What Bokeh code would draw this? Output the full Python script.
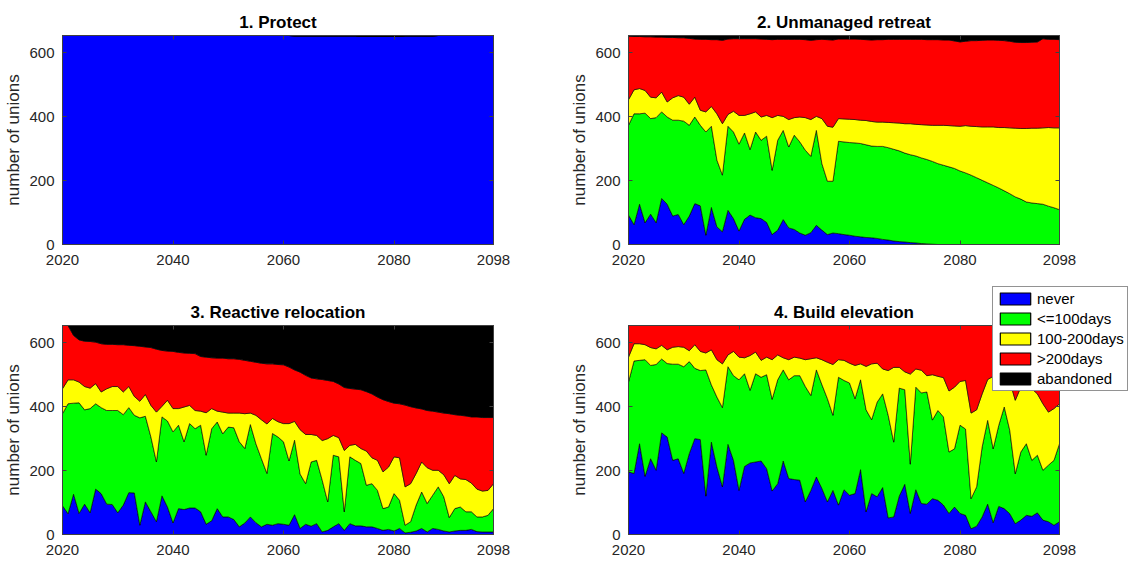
import numpy as np
from bokeh.plotting import figure
from bokeh.models import Range1d, FixedTicker, LinearAxis, Legend, LegendItem, GridBox
from bokeh.embed import file_html
from bokeh.resources import INLINE

# ---------------- data ----------------
years = list(range(2020, 2099))
categories = ["never", "<=100days", "100-200days", ">200days", "abandoned"]
colors = ["#0000ff", "#00ff00", "#ffff00", "#ff0000", "#000000"]
titles = ["1. Protect", "2. Unmanaged retreat", "3. Reactive relocation", "4. Build elevation"]
x_ticks = [2020, 2040, 2060, 2080, 2098]
y_ticks = [0, 200, 400, 600]
total_unions = 654

# Panel 1: Protect
p1_never = [654, 654, 654, 654, 654, 654, 654, 654, 654, 654,
            654, 654, 654, 654, 654, 654, 654, 654, 654, 654,
            654, 654, 654, 654, 654, 654, 654, 654, 654, 654,
            654, 654, 654, 654, 654, 654, 654, 654, 654, 654,
            654, 654, 653, 653, 653, 653, 653, 653, 653, 653,
            653, 653, 653, 653, 651, 651, 651, 651, 651, 651,
            651, 651, 653, 653, 653, 653, 653, 653, 654, 654,
            654, 654, 654, 654, 654, 654, 654, 654, 654]
p1_le100 = [0, 0, 0, 0, 0, 0, 0, 0, 0, 0, 0, 0, 0, 0, 0, 0, 0, 0, 0, 0,
            0, 0, 0, 0, 0, 0, 0, 0, 0, 0, 0, 0, 0, 0, 0, 0, 0, 0, 0, 0,
            0, 0, 0, 0, 0, 0, 0, 0, 0, 0, 0, 0, 0, 0, 0, 0, 0, 0, 0, 0,
            0, 0, 0, 0, 0, 0, 0, 0, 0, 0, 0, 0, 0, 0, 0, 0, 0, 0, 0]
p1_d100_200 = [0, 0, 0, 0, 0, 0, 0, 0, 0, 0, 0, 0, 0, 0, 0, 0, 0, 0, 0, 0,
               0, 0, 0, 0, 0, 0, 0, 0, 0, 0, 0, 0, 0, 0, 0, 0, 0, 0, 0, 0,
               0, 0, 0, 0, 0, 0, 0, 0, 0, 0, 0, 0, 0, 0, 0, 0, 0, 0, 0, 0,
               0, 0, 0, 0, 0, 0, 0, 0, 0, 0, 0, 0, 0, 0, 0, 0, 0, 0, 0]
p1_gt200 = [0, 0, 0, 0, 0, 0, 0, 0, 0, 0, 0, 0, 0, 0, 0, 0, 0, 0, 0, 0,
            0, 0, 0, 0, 0, 0, 0, 0, 0, 0, 0, 0, 0, 0, 0, 0, 0, 0, 0, 0,
            0, 0, 0, 0, 0, 0, 0, 0, 0, 0, 0, 0, 0, 0, 0, 0, 0, 0, 0, 0,
            0, 0, 0, 0, 0, 0, 0, 0, 0, 0, 0, 0, 0, 0, 0, 0, 0, 0, 0]
p1_abandoned = [0, 0, 0, 0, 0, 0, 0, 0, 0, 0,
                0, 0, 0, 0, 0, 0, 0, 0, 0, 0,
                0, 0, 0, 0, 0, 0, 0, 0, 0, 0,
                0, 0, 0, 0, 0, 0, 0, 0, 0, 0,
                0, 0, 1, 1, 1, 1, 1, 1, 1, 1,
                1, 1, 1, 1, 3, 3, 3, 3, 3, 3,
                3, 3, 1, 1, 1, 1, 1, 1, 0, 0,
                0, 0, 0, 0, 0, 0, 0, 0, 0]

# Panel 2: Unmanaged retreat
p2_never = [92, 62, 126, 68, 95, 68, 144, 126, 89, 94,
            62, 89, 128, 121, 29, 116, 55, 40, 107, 81,
            42, 79, 92, 84, 81, 69, 31, 45, 78, 52,
            47, 36, 29, 37, 60, 45, 31, 36, 34, 31,
            29, 26, 24, 22, 21, 19, 16, 14, 11, 9,
            8, 6, 5, 3, 2, 1, 0, 0, 0, 0,
            0, 0, 0, 0, 0, 0, 0, 0, 0, 0,
            0, 0, 0, 0, 0, 0, 0, 0, 0]
p2_le100 = [281, 347, 283, 343, 299, 329, 271, 273, 300, 295,
            324, 284, 271, 252, 323, 254, 209, 177, 263, 271,
            272, 270, 205, 268, 245, 270, 201, 281, 279, 253,
            295, 285, 266, 239, 297, 208, 167, 162, 289, 290,
            290, 292, 292, 290, 287, 288, 291, 289, 287, 284,
            278, 275, 272, 268, 264, 259, 253, 248, 243, 238,
            230, 224, 217, 209, 201, 193, 185, 177, 168, 159,
            149, 142, 133, 130, 128, 126, 120, 115, 109]
p2_d100_200 = [80, 75, 79, 71, 67, 62, 62, 47, 70, 77,
               75, 66, 62, 47, 63, 62, 145, 161, 37, 65,
               90, 55, 112, 63, 73, 65, 165, 78, 44, 86,
               55, 78, 102, 115, 44, 141, 172, 169, 71, 72,
               73, 73, 73, 76, 77, 76, 76, 79, 83, 87,
               92, 97, 99, 104, 108, 113, 120, 125, 129, 133,
               140, 148, 153, 160, 167, 175, 183, 189, 198, 206,
               215, 221, 230, 234, 236, 239, 246, 250, 256]
p2_gt200 = [199, 167, 163, 168, 189, 190, 172, 202, 189, 181,
            186, 206, 182, 222, 227, 209, 232, 261, 236, 227,
            240, 240, 235, 229, 244, 238, 244, 238, 241, 251,
            245, 243, 244, 248, 240, 248, 271, 273, 249, 250,
            251, 252, 253, 253, 255, 258, 258, 260, 261, 262,
            264, 264, 266, 267, 267, 268, 268, 267, 268, 266,
            264, 264, 268, 269, 271, 272, 272, 273, 272, 271,
            269, 269, 269, 269, 270, 279, 276, 277, 276]
p2_abandoned = [2, 3, 3, 4, 4, 5, 5, 6, 6, 7,
                7, 9, 11, 12, 12, 13, 13, 15, 11, 10,
                10, 10, 10, 10, 11, 12, 13, 12, 12, 12,
                12, 12, 13, 15, 13, 12, 13, 14, 11, 11,
                11, 11, 12, 13, 14, 13, 13, 12, 12, 12,
                12, 12, 12, 12, 13, 13, 13, 14, 14, 17,
                20, 18, 16, 16, 15, 14, 14, 15, 16, 18,
                21, 22, 22, 21, 20, 10, 12, 12, 13]

# Panel 3: Reactive relocation
p3_never = [90, 65, 126, 66, 95, 68, 142, 128, 95, 94,
            68, 92, 131, 130, 29, 102, 71, 40, 121, 86,
            36, 81, 78, 83, 83, 71, 32, 43, 81, 55,
            55, 47, 24, 36, 55, 37, 24, 32, 29, 34,
            32, 29, 62, 19, 32, 26, 34, 8, 13, 24,
            34, 13, 34, 27, 27, 24, 24, 19, 13, 16,
            11, 19, 5, 7, 11, 19, 8, 19, 16, 11,
            8, 11, 13, 13, 16, 9, 8, 8, 8]
p3_le100 = [288, 344, 285, 346, 295, 326, 267, 269, 293, 294,
            320, 283, 266, 243, 336, 268, 234, 187, 247, 269,
            285, 261, 212, 264, 248, 271, 216, 288, 271, 260,
            281, 287, 266, 233, 289, 247, 213, 159, 287, 271,
            258, 201, 233, 170, 127, 201, 198, 162, 89, 224,
            209, 58, 209, 205, 195, 130, 135, 119, 68, 70,
            117, 88, 24, 33, 81, 114, 89, 104, 133, 107,
            45, 70, 73, 58, 55, 46, 47, 52, 73]
p3_d100_200 = [78, 75, 73, 65, 73, 64, 63, 49, 68, 75,
               75, 71, 66, 59, 52, 68, 99, 156, 33, 65,
               73, 52, 109, 57, 57, 44, 133, 63, 34, 68,
               44, 46, 90, 109, 36, 89, 122, 155, 47, 48,
               57, 117, 59, 139, 154, 86, 78, 124, 198, 62,
               60, 192, 36, 50, 47, 107, 81, 94, 115, 125,
               115, 133, 120, 119, 99, 94, 112, 78, 52, 69,
               106, 104, 88, 101, 90, 87, 81, 78, 78]
p3_gt200 = [198, 170, 139, 132, 142, 146, 130, 151, 139, 132,
            131, 148, 129, 159, 172, 149, 181, 197, 175, 154,
            179, 176, 169, 163, 178, 171, 174, 159, 166, 169,
            170, 170, 168, 167, 162, 166, 177, 188, 171, 179,
            184, 177, 161, 180, 185, 177, 177, 191, 182, 169,
            168, 197, 178, 173, 184, 186, 200, 198, 226, 205,
            168, 169, 256, 241, 205, 166, 179, 185, 182, 193,
            219, 190, 199, 199, 207, 226, 230, 228, 207]
p3_abandoned = [0, 0, 31, 45, 49, 50, 52, 57, 59, 59,
                60, 60, 62, 63, 65, 67, 69, 74, 78, 80,
                81, 84, 86, 87, 88, 97, 99, 101, 102, 102,
                104, 104, 106, 109, 112, 115, 118, 120, 120, 122,
                123, 130, 139, 146, 156, 164, 167, 169, 172, 175,
                183, 194, 197, 199, 201, 207, 214, 224, 232, 238,
                243, 245, 249, 254, 258, 261, 266, 268, 271, 274,
                276, 279, 281, 283, 286, 286, 288, 288, 288]

# Panel 4: Build elevation
p4_never = [196, 191, 284, 182, 237, 201, 318, 305, 232, 237,
            191, 253, 300, 297, 120, 289, 211, 149, 282, 232,
            138, 213, 224, 227, 230, 206, 136, 159, 230, 175,
            172, 170, 102, 138, 180, 144, 102, 138, 92, 140,
            123, 128, 203, 71, 128, 118, 147, 52, 55, 120,
            157, 66, 140, 97, 95, 112, 107, 92, 66, 86,
            66, 60, 18, 26, 55, 95, 37, 88, 81, 65,
            34, 45, 60, 57, 68, 45, 40, 29, 40]
p4_le100 = [281, 352, 261, 365, 292, 331, 231, 230, 301, 296,
            334, 288, 220, 216, 395, 179, 219, 248, 243, 265,
            346, 290, 227, 276, 262, 294, 287, 325, 285, 309,
            325, 327, 361, 297, 335, 325, 323, 235, 400, 342,
            351, 297, 281, 319, 231, 296, 293, 321, 234, 338,
            296, 154, 321, 346, 351, 246, 281, 276, 192, 182,
            276, 270, 94, 123, 219, 262, 231, 253, 318, 261,
            156, 213, 224, 175, 180, 156, 177, 203, 244]
p4_d100_200 = [78, 54, 52, 47, 56, 49, 43, 43, 53, 55,
               61, 34, 74, 60, 53, 110, 117, 137, 37, 76,
               71, 50, 109, 68, 53, 55, 124, 78, 38, 63,
               58, 55, 84, 115, 38, 78, 114, 159, 55, 63,
               62, 104, 50, 136, 175, 122, 78, 140, 234, 65,
               56, 282, 57, 71, 51, 142, 107, 123, 191, 193,
               137, 152, 268, 241, 166, 128, 227, 149, 71, 154,
               230, 203, 186, 224, 192, 208, 166, 162, 125]
p4_gt200 = [99, 57, 57, 60, 69, 73, 62, 76, 68, 66,
            68, 79, 60, 81, 86, 76, 107, 120, 92, 81,
            99, 101, 94, 83, 109, 99, 107, 92, 101, 107,
            99, 102, 107, 104, 101, 107, 115, 122, 107, 109,
            118, 125, 120, 128, 120, 118, 136, 141, 131, 131,
            145, 152, 136, 140, 157, 154, 159, 163, 205, 193,
            175, 172, 274, 264, 214, 169, 159, 164, 184, 174,
            234, 193, 184, 198, 214, 245, 271, 260, 245]
p4_abandoned = [0, 0, 0, 0, 0, 0, 0, 0, 0, 0, 0, 0, 0, 0, 0, 0, 0, 0, 0, 0,
                0, 0, 0, 0, 0, 0, 0, 0, 0, 0, 0, 0, 0, 0, 0, 0, 0, 0, 0, 0,
                0, 0, 0, 0, 0, 0, 0, 0, 0, 0, 0, 0, 0, 0, 0, 0, 0, 0, 0, 0,
                0, 0, 0, 0, 0, 0, 0, 0, 0, 0, 0, 0, 0, 0, 0, 0, 0, 0, 0]

panels = [
    [p1_never, p1_le100, p1_d100_200, p1_gt200, p1_abandoned],
    [p2_never, p2_le100, p2_d100_200, p2_gt200, p2_abandoned],
    [p3_never, p3_le100, p3_d100_200, p3_gt200, p3_abandoned],
    [p4_never, p4_le100, p4_d100_200, p4_gt200, p4_abandoned],
]

# ---------------- styling ----------------
FONT = "Liberation Sans"
TXT = "#262626"
BOX = "#404040"
FIG_W, FIG_H = 566, 281


def style_axis(ax, show_labels):
    ax.major_tick_in = 4
    ax.major_tick_out = 0
    ax.minor_tick_line_color = None
    ax.major_tick_line_color = BOX
    ax.axis_line_color = BOX
    ax.axis_line_width = 1
    if show_labels:
        ax.major_label_text_font = FONT
        ax.major_label_text_font_size = "15px"
        ax.major_label_text_color = TXT
    else:
        ax.major_label_text_font_size = "0px"
        ax.major_label_text_color = None
        ax.major_label_standoff = 0


def stacked_patches(p, series, x_vals, lw=0.6):
    lower = np.zeros(len(x_vals))
    rends = []
    for vals, col in zip(series, colors):
        upper = lower + np.array(vals, dtype=float)
        xs = list(x_vals) + list(x_vals)[::-1]
        ys = list(upper) + list(lower[::-1])
        rends.append(p.patch(xs, ys, fill_color=col, line_color="black", line_width=lw))
        lower = upper
    return rends


def make_panel(idx, top_border, bottom_border):
    p = figure(width=FIG_W, height=FIG_H, output_backend="svg", toolbar_location=None,
               x_range=Range1d(years[0], years[-1]), y_range=Range1d(0, total_unions),
               min_border_left=62, min_border_right=73,
               min_border_top=top_border, min_border_bottom=bottom_border,
               background_fill_color="white", border_fill_color="white",
               x_axis_type=None, y_axis_type=None)
    p.grid.visible = False
    p.outline_line_color = BOX
    p.outline_line_width = 1

    p.title.text = titles[idx]
    p.title.text_font = FONT
    p.title.text_font_size = "17px"
    p.title.text_font_style = "bold"
    p.title.text_color = "black"
    p.title.align = "center"
    p.title.standoff = 7

    xb = LinearAxis(ticker=FixedTicker(ticks=x_ticks))
    style_axis(xb, True)
    xb.major_label_standoff = 10
    p.add_layout(xb, "below")

    yl = LinearAxis(ticker=FixedTicker(ticks=y_ticks))
    style_axis(yl, True)
    yl.major_label_standoff = 8
    yl.axis_label = "number of unions"
    yl.axis_label_text_font = FONT
    yl.axis_label_text_font_size = "17px"
    yl.axis_label_text_font_style = "normal"
    yl.axis_label_text_color = TXT
    yl.axis_label_standoff = 3
    p.add_layout(yl, "left")

    xa = LinearAxis(ticker=FixedTicker(ticks=x_ticks))
    style_axis(xa, False)
    p.add_layout(xa, "above")
    yr = LinearAxis(ticker=FixedTicker(ticks=y_ticks))
    style_axis(yr, False)
    p.add_layout(yr, "right")

    stacked_patches(p, panels[idx], years)
    return p


p1 = make_panel(0, 35, 37)
p2 = make_panel(1, 35, 37)
p3 = make_panel(2, 44, 28)
p4 = make_panel(3, 44, 28)

# Transparent overlay figure sharing panel 4's cell, carrying the legend so it
# may extend beyond panel 4's axes box (as in the reference).
leg_fig = figure(width=FIG_W, height=FIG_H, output_backend="svg", toolbar_location=None,
                 x_range=Range1d(0, 1), y_range=Range1d(0, 1),
                 x_axis_type=None, y_axis_type=None, min_border=0,
                 background_fill_color=None, border_fill_color=None,
                 outline_line_color=None)
leg_fig.frame_align = False
leg_fig.grid.visible = False
leg_rends = stacked_patches(leg_fig, panels[3], years, lw=1.2)  # outside this figure's ranges

legend = Legend(items=[LegendItem(label=c, renderers=[r]) for c, r in zip(categories, leg_rends)],
                location=(426, 171), orientation="vertical",
                label_text_font=FONT, label_text_font_size="15px", label_text_color="black",
                glyph_width=38, glyph_height=15, label_height=15, label_standoff=3,
                spacing=3, padding=3, margin=0,
                border_line_color=TXT, border_line_width=1,
                background_fill_color="white", background_fill_alpha=1.0)
leg_fig.add_layout(legend, "center")

layout = GridBox(children=[(p1, 0, 0), (p2, 0, 1), (p3, 1, 0), (p4, 1, 1), (leg_fig, 1, 1)],
                 spacing=0)
open("out.html", "w").write(file_html(layout, INLINE))
